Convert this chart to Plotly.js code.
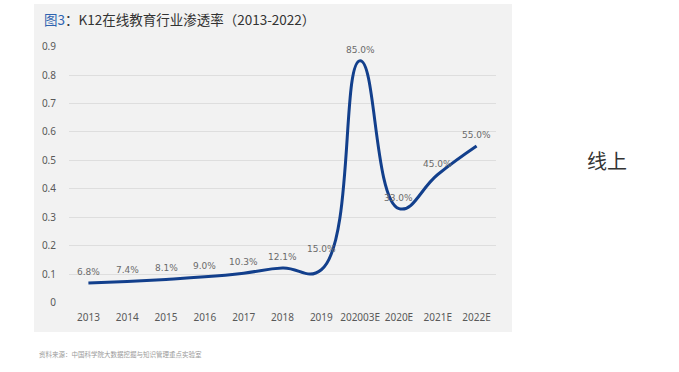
<!DOCTYPE html>
<html>
<head>
<meta charset="utf-8">
<script src="https://cdn.plot.ly/plotly-3.0.1.min.js"></script>
<style>html,body{margin:0;padding:0;background:#fff;}#chart{width:679px;height:372px;}</style>
</head>
<body>
<div id="chart"></div>
<script>
const categories = ["2013","2014","2015","2016","2017","2018","2019","202003E","2020E","2021E","2022E"];
const values = [0.068, 0.074, 0.081, 0.090, 0.103, 0.121, 0.115, 0.85, 0.33, 0.45, 0.55];
const labels = ["6.8%","7.4%","8.1%","9.0%","10.3%","12.1%","15.0%","85.0%","33.0%","45.0%","55.0%"];
const yTicks = [0, 0.1, 0.2, 0.3, 0.4, 0.5, 0.6, 0.7, 0.8, 0.9];
const yTickText = ["0","0.1","0.2","0.3","0.4","0.5","0.6","0.7","0.8","0.9"];

const W = 679, H = 372;
const L = 69, R = 496, T = 46, B = 303;
const px = x => (x - L) / (R - L);
const py = y => (H - y - (H - B)) / (B - T);

const trace = {
  type: 'scatter',
  mode: 'lines',
  x: categories,
  y: values,
  line: {color: '#123f8c', width: 3, shape: 'spline', smoothing: 1.3},
  hoverinfo: 'none'
};

// data labels sit above the labelled value (parsed from the label text); x given as category index
const labelAnns = labels.map((t, i) => ({
  x: i, y: parseFloat(t) / 100, xref: 'x', yref: 'y',
  text: t, showarrow: false, yanchor: 'bottom', yshift: 4,
  font: {family: 'DejaVu Sans, sans-serif', size: 9, color: '#6a6a6a'}
}));

const layout = {
  width: W, height: H,
  margin: {l: L, r: W - R, t: T, b: H - B, pad: 0},
  paper_bgcolor: '#ffffff',
  plot_bgcolor: 'rgba(0,0,0,0)',
  showlegend: false,
  xaxis: {
    type: 'category',
    categoryorder: 'array', categoryarray: categories,
    range: [-0.5, categories.length - 0.5],
    showgrid: false, zeroline: false, showline: false, ticks: '',
    tickfont: {family: 'Noto Sans, sans-serif', size: 10, color: '#595959'},
    ticklabelstandoff: 7,
    fixedrange: true
  },
  yaxis: {
    range: [-0.002, 0.902],
    tickvals: yTicks, ticktext: yTickText,
    showgrid: true, gridcolor: '#dedede', gridwidth: 1,
    zeroline: false, showline: false, ticks: '',
    tickfont: {family: 'Noto Sans, sans-serif', size: 10, color: '#595959'},
    ticklabelstandoff: 12,
    fixedrange: true
  },
  shapes: [{
    type: 'rect', xref: 'paper', yref: 'paper', layer: 'below',
    x0: px(34), x1: px(512), y0: py(332), y1: py(4),
    fillcolor: '#f2f2f2', line: {width: 0}
  }],
  annotations: labelAnns.concat([
    {
      xref: 'paper', yref: 'paper', x: px(42), y: py(19), xanchor: 'left', yanchor: 'middle',
      showarrow: false,
      text: '<span style="color:#2f63b0">图3</span>：K12在线教育行业渗透率（2013-2022）',
      font: {family: 'Noto Sans CJK SC, sans-serif', size: 13.5, color: '#333333'}
    },
    {
      xref: 'paper', yref: 'paper', x: px(607), y: py(160), xanchor: 'center', yanchor: 'middle',
      showarrow: false, text: '线上',
      font: {family: 'Noto Sans CJK SC, sans-serif', size: 20, color: '#333333'}
    },
    {
      xref: 'paper', yref: 'paper', x: px(37), y: py(354), xanchor: 'left', yanchor: 'middle',
      showarrow: false, text: '资料来源：中国科学院大数据挖掘与知识管理重点实验室',
      font: {family: 'Noto Sans CJK SC, sans-serif', size: 6.5, color: '#9a9a9a'}
    }
  ])
};

Plotly.newPlot('chart', [trace], layout, {displayModeBar: false, staticPlot: true});
</script>
</body>
</html>
